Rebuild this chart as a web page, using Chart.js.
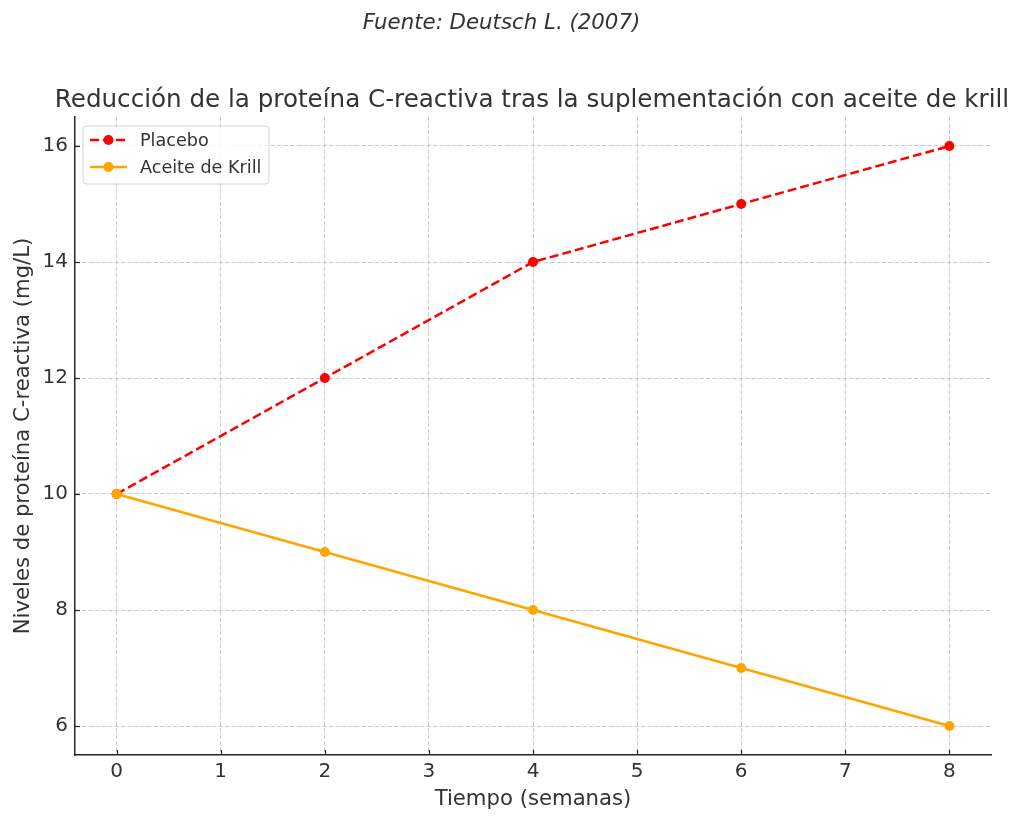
<!DOCTYPE html>
<html>
<head>
<meta charset="utf-8">
<script src="https://cdn.jsdelivr.net/npm/chart.js@4.4.1/dist/chart.umd.min.js"></script>
<style>
html,body{margin:0;padding:0;background:#fff;}
#wrap{width:1024px;height:823px;}
</style>
</head>
<body>
<div id="wrap"><canvas id="c" width="1024" height="823"></canvas></div>
<script>
const weeks = [0, 2, 4, 6, 8];
const placebo = [10, 12, 14, 15, 16];
const krill = [10, 9, 8, 7, 6];
const xTicks = [0, 1, 2, 3, 4, 5, 6, 7, 8];
const yTicks = [6, 8, 10, 12, 14, 16];
const seriesLabels = ['Placebo', 'Aceite de Krill'];
const titleText = 'Reducción de la proteína C-reactiva tras la suplementación con aceite de krill';
const subtitleText = 'Fuente: Deutsch L. (2007)';
const xTitle = 'Tiempo (semanas)';
const yTitle = 'Niveles de proteína C-reactiva (mg/L)';

const FONT = '"DejaVu Sans", "Liberation Sans", sans-serif';
const TEXT = '#333333';
const AXIS = '#262626';

const decor = {
  id: 'decor',
  afterDraw(chart) {
    const ctx = chart.ctx;
    const a = chart.chartArea;
    const xs = chart.scales.x, ys = chart.scales.y;
    ctx.save();
    // inward ticks
    ctx.strokeStyle = AXIS;
    ctx.lineWidth = 1.2;
    xTicks.forEach(v => {
      const px = Math.round(xs.getPixelForValue(v)) + 0.5;
      ctx.beginPath(); ctx.moveTo(px, a.bottom); ctx.lineTo(px, a.bottom - 5); ctx.stroke();
    });
    yTicks.forEach(v => {
      const py = Math.round(ys.getPixelForValue(v)) + 0.5;
      ctx.beginPath(); ctx.moveTo(a.left, py); ctx.lineTo(a.left + 5, py); ctx.stroke();
    });
    // titles
    ctx.fillStyle = TEXT;
    ctx.textBaseline = 'alphabetic';
    ctx.textAlign = 'center';
    ctx.font = 'italic 21.3px ' + FONT;
    ctx.fillText(subtitleText, 501.5, 29);
    ctx.font = '24.6px ' + FONT;
    ctx.fillText(titleText, 532, 107);
    ctx.font = '21.2px ' + FONT;
    ctx.fillText(xTitle, (a.left + a.right) / 2, 805);
    ctx.save();
    ctx.translate(29, (a.top + a.bottom) / 2);
    ctx.rotate(-Math.PI / 2);
    ctx.fillText(yTitle, 0, 0);
    ctx.restore();
    // legend
    const lx = 83, ly = 126, lw = 186, lh = 58, r = 4;
    ctx.beginPath();
    ctx.moveTo(lx + r, ly);
    ctx.arcTo(lx + lw, ly, lx + lw, ly + lh, r);
    ctx.arcTo(lx + lw, ly + lh, lx, ly + lh, r);
    ctx.arcTo(lx, ly + lh, lx, ly, r);
    ctx.arcTo(lx, ly, lx + lw, ly, r);
    ctx.closePath();
    ctx.fillStyle = 'rgba(255,255,255,0.8)';
    ctx.fill();
    ctx.strokeStyle = '#d4d4d4';
    ctx.lineWidth = 1;
    ctx.stroke();
    const dsets = chart.data.datasets;
    const rows = [140, 167];
    rows.forEach((ry, i) => {
      const ds = dsets[i];
      ctx.strokeStyle = ds.borderColor;
      ctx.lineWidth = ds.borderWidth;
      ctx.setLineDash(ds.borderDash || []);
      ctx.beginPath(); ctx.moveTo(90, ry); ctx.lineTo(127, ry); ctx.stroke();
      ctx.setLineDash([]);
      ctx.fillStyle = ds.pointBackgroundColor;
      ctx.beginPath(); ctx.arc(108.5, ry, 5, 0, Math.PI * 2); ctx.fill();
      ctx.fillStyle = TEXT;
      ctx.font = '17.6px ' + FONT;
      ctx.textAlign = 'left';
      ctx.textBaseline = 'middle';
      ctx.fillText(ds.label, 140, ry + 1);
    });
    ctx.restore();
  }
};

new Chart(document.getElementById('c'), {
  type: 'line',
  data: {
    datasets: [
      {
        label: seriesLabels[0],
        data: weeks.map((w, i) => ({ x: w, y: placebo[i] })),
        borderColor: '#ff0000',
        backgroundColor: '#ff0000',
        pointBackgroundColor: '#ff0000',
        pointBorderWidth: 0,
        pointRadius: 5,
        borderWidth: 2.5,
        borderDash: [9, 4],
        tension: 0,
        order: 1
      },
      {
        label: seriesLabels[1],
        data: weeks.map((w, i) => ({ x: w, y: krill[i] })),
        borderColor: '#ffa500',
        backgroundColor: '#ffa500',
        pointBackgroundColor: '#ffa500',
        pointBorderWidth: 0,
        pointRadius: 5,
        borderWidth: 2.5,
        tension: 0,
        order: 0
      }
    ]
  },
  options: {
    responsive: false,
    animation: false,
    devicePixelRatio: 1,
    layout: { padding: { left: 0, top: 117, right: 33, bottom: 0 } },
    plugins: { legend: { display: false }, title: { display: false }, tooltip: { enabled: false } },
    scales: {
      x: {
        type: 'linear',
        min: -0.4,
        max: 8.4,
        afterBuildTicks: s => { s.ticks = xTicks.map(v => ({ value: v })); },
        afterFit: s => { s.height = 68; },
        ticks: { font: { family: FONT, size: 20 }, color: TEXT, padding: 5 },
        grid: { color: '#cccccc', lineWidth: 1, drawTicks: false },
        border: { display: true, color: AXIS, width: 1.5, dash: [4.5, 2] }
      },
      y: {
        type: 'linear',
        min: 5.5,
        max: 16.5,
        afterBuildTicks: s => { s.ticks = yTicks.map(v => ({ value: v })); },
        afterFit: s => { s.width = 75; },
        ticks: { font: { family: FONT, size: 20 }, color: TEXT, padding: 7 },
        grid: { color: '#cccccc', lineWidth: 1, drawTicks: false },
        border: { display: true, color: AXIS, width: 1.5, dash: [4.5, 2] }
      }
    }
  },
  plugins: [decor]
});
</script>
</body>
</html>
